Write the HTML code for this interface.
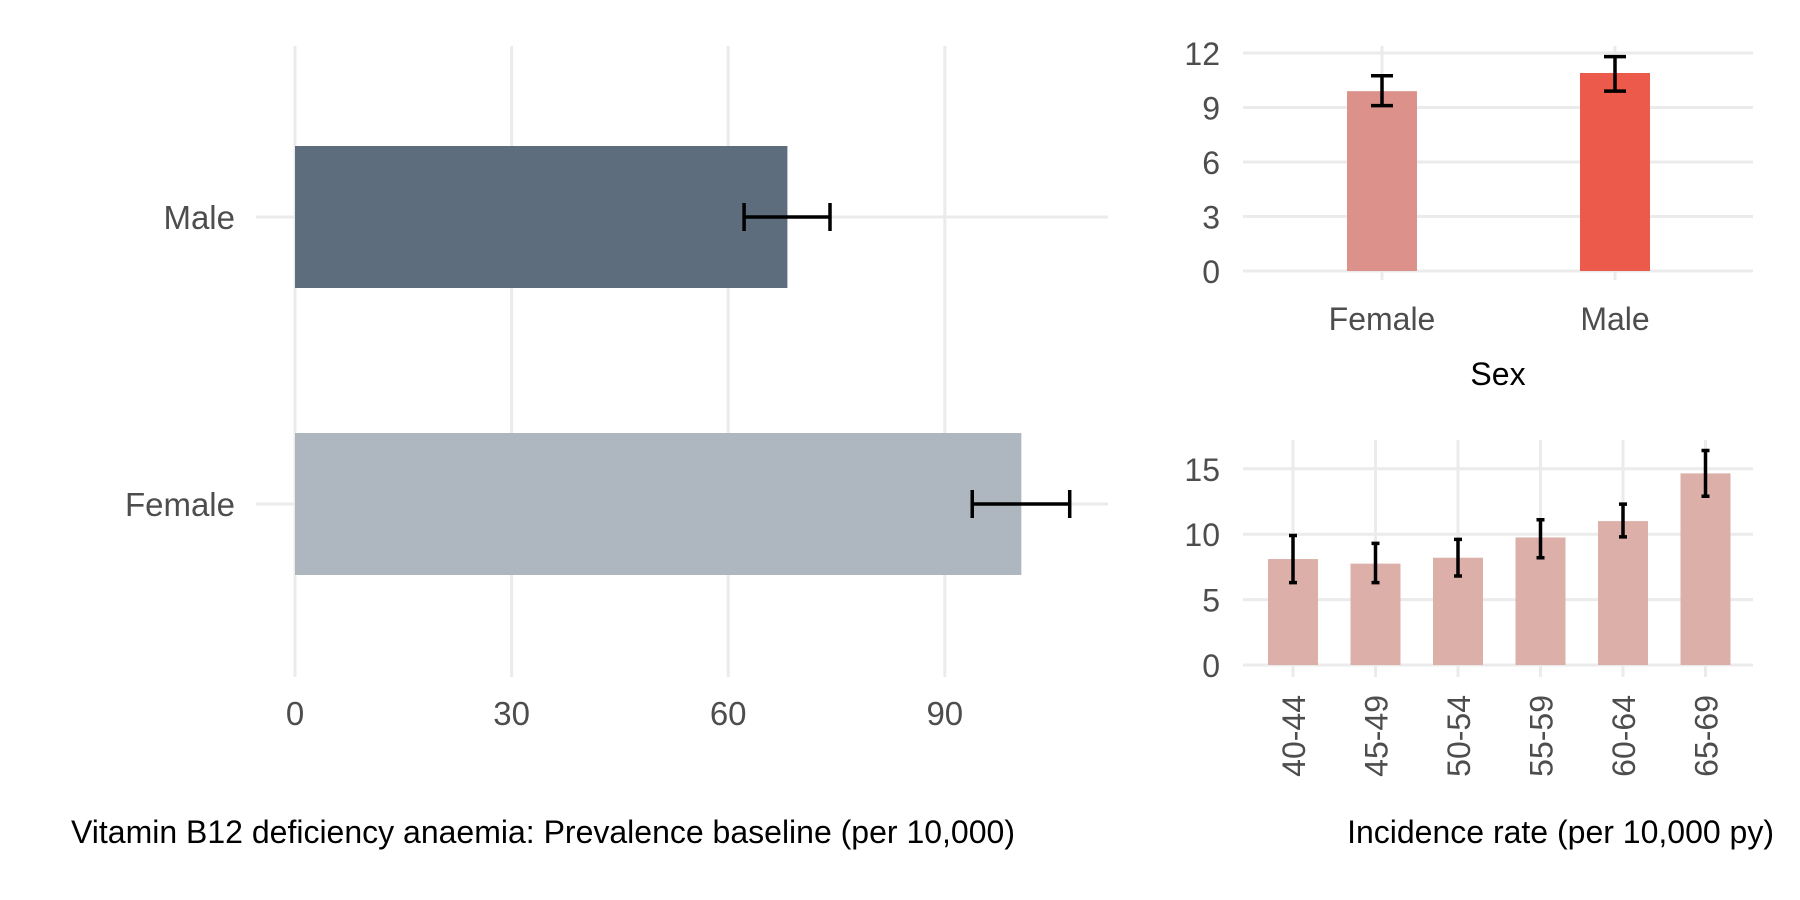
<!DOCTYPE html>
<html><head><meta charset="utf-8"><style>
html,body{margin:0;padding:0;background:#fff}
svg{display:block}
text{font-family:"Liberation Sans",Arial,sans-serif}
</style></head><body>
<svg id="c" width="1800" height="900" viewBox="0 0 1800 900"></svg>
<script>
// Left chart: prevalence
const prevCats = ["Male","Female"];
const prevVals = [68.2, 100.6];
const prevLo = [62.2, 93.8];
const prevHi = [74.1, 107.3];
const prevTicks = [0,30,60,90];
const prevColors = ["#5d6d7e","#aeb6bf"];
// Top right: incidence by sex
const sexCats = ["Female","Male"];
const sexVals = [9.9, 10.9];
const sexLo = [9.1, 9.9];
const sexHi = [10.75, 11.8];
const sexTicks = [0,3,6,9,12];
const sexColors = ["#dc928a","#eb5a4a"];
// Bottom right: incidence by age
const ageCats = ["40-44","45-49","50-54","55-59","60-64","65-69"];
const ageVals = [8.1, 7.75, 8.2, 9.75, 11.0, 14.65];
const ageLo = [6.3, 6.3, 6.8, 8.2, 9.8, 12.9];
const ageHi = [9.9, 9.3, 9.6, 11.1, 12.3, 16.4];
const ageTicks = [0,5,10,15];

const svg=document.getElementById('c');
const NS="http://www.w3.org/2000/svg";
function mk(tag,attrs,parent){const e=document.createElementNS(NS,tag);for(const k in attrs)e.setAttribute(k,attrs[k]);(parent||svg).appendChild(e);return e;}
const grid="#ebebeb";

// ---- Left chart ----
const lx=v=>295+v*7.22;
const ly={"Male":217,"Female":504};
const gL=mk('g',{});


prevTicks.forEach(t=>{
  const l=mk('line',{x1:lx(t),x2:lx(t),y1:46,y2:677,stroke:grid,'stroke-width':3},gL);
  
  
  const tx=mk('text',{x:lx(t),y:725,'text-anchor':'middle','font-size':33,fill:'#4d4d4d'},gL);
  tx.textContent=t;
  
  
});
prevCats.forEach((c,i)=>{
  const y=ly[c];
  const gl=mk('line',{x1:256,x2:1108,y1:y,y2:y,stroke:grid,'stroke-width':3},gL);
  
  
  const r=mk('rect',{x:lx(0),y:y-71,width:lx(prevVals[i])-lx(0),height:142,fill:prevColors[i]},gL);
  
  
  const eb=mk('path',{d:`M${lx(prevLo[i])},${y} H${lx(prevHi[i])} M${lx(prevLo[i])},${y-14} V${y+14} M${lx(prevHi[i])},${y-14} V${y+14}`,stroke:'#000','stroke-width':3.5,fill:'none'},gL);
  
  
  const tx=mk('text',{x:235,y:y+12,'text-anchor':'end','font-size':33,fill:'#4d4d4d'},gL);
  tx.textContent=c;
  
  
});
const t1=mk('text',{x:71,y:843,'font-size':32,fill:'#000'});
t1.textContent="Vitamin B12 deficiency anaemia: Prevalence baseline (per 10,000)";



// ---- Top right ----
const sy=v=>271-v*(54.5/3);
const sx={"Female":1382,"Male":1615};
const gS=mk('g',{});


sexTicks.forEach(t=>{
  const l=mk('line',{x1:1243,x2:1753,y1:sy(t),y2:sy(t),stroke:grid,'stroke-width':3},gS);
  
  
  const tx=mk('text',{x:1220,y:sy(t)+12,'text-anchor':'end','font-size':32,fill:'#4d4d4d'},gS);
  tx.textContent=t;
  
  
});
sexCats.forEach((c,i)=>{
  const x=sx[c];
  const gl=mk('line',{x1:x,x2:x,y1:46,y2:280,stroke:grid,'stroke-width':3},gS);
  
  
  const r=mk('rect',{x:x-35,y:sy(sexVals[i]),width:70,height:sy(0)-sy(sexVals[i]),fill:sexColors[i]},gS);
  
  
  const eb=mk('path',{d:`M${x},${sy(sexLo[i])} V${sy(sexHi[i])} M${x-11},${sy(sexLo[i])} H${x+11} M${x-11},${sy(sexHi[i])} H${x+11}`,stroke:'#000','stroke-width':3.5,fill:'none'},gS);
  
  
  const tx=mk('text',{x:x,y:330,'text-anchor':'middle','font-size':32,fill:'#4d4d4d'},gS);
  tx.textContent=c;
  
  
});
const t2=mk('text',{x:1498,y:385,'text-anchor':'middle','font-size':32,fill:'#000'});
t2.textContent="Sex";



// ---- Bottom right ----
const ay=v=>665-v*(65.4/5);
const ax=i=>1293+i*82.5;
const gA=mk('g',{});


ageTicks.forEach(t=>{
  const l=mk('line',{x1:1243,x2:1753,y1:ay(t),y2:ay(t),stroke:grid,'stroke-width':3},gA);
  
  
  const tx=mk('text',{x:1220,y:ay(t)+12,'text-anchor':'end','font-size':32,fill:'#4d4d4d'},gA);
  tx.textContent=t;
  
  
});
ageCats.forEach((c,i)=>{
  const x=ax(i);
  const gl=mk('line',{x1:x,x2:x,y1:440,y2:677,stroke:grid,'stroke-width':3},gA);
  
  
  const r=mk('rect',{x:x-25,y:ay(ageVals[i]),width:50,height:ay(0)-ay(ageVals[i]),fill:'#dcafa8'},gA);
  
  
  const eb=mk('path',{d:`M${x},${ay(ageLo[i])} V${ay(ageHi[i])} M${x-4},${ay(ageLo[i])} H${x+4} M${x-4},${ay(ageHi[i])} H${x+4}`,stroke:'#000','stroke-width':3.5,fill:'none'},gA);
  
  
  const tx=mk('text',{x:0,y:0,'text-anchor':'end','font-size':32,fill:'#4d4d4d',transform:`translate(${x+12},695) rotate(-90)`},gA);
  tx.textContent=c;
  
  
});
const t3=mk('text',{x:1774,y:843,'text-anchor':'end','font-size':32,fill:'#000'});
t3.textContent="Incidence rate (per 10,000 py)";


</script>
</body></html>
